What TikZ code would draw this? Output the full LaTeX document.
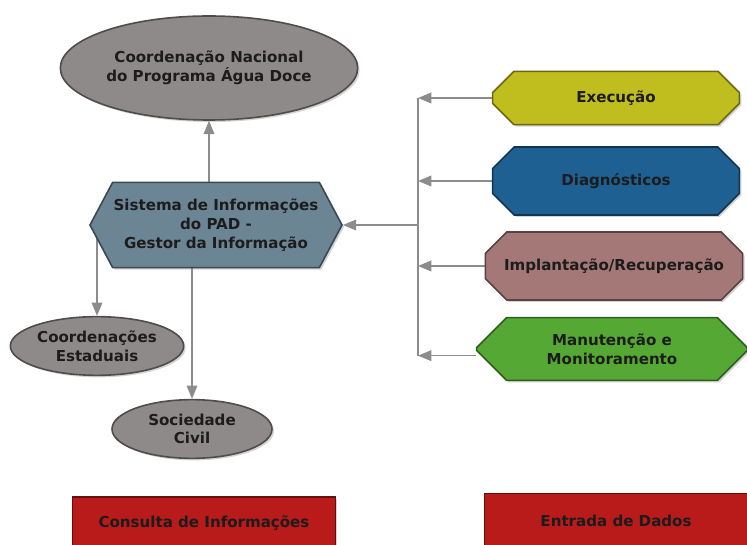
\documentclass[tikz,border=0pt]{standalone}
\usepackage{fontspec}
\setmainfont{DejaVu Sans}
\usetikzlibrary{shapes.geometric}
\usetikzlibrary{shapes.misc}
\usetikzlibrary{shapes.symbols}
\usetikzlibrary{arrows.meta}
\usetikzlibrary{shadows}
\usetikzlibrary{backgrounds}

\definecolor{cinza}{RGB}{142,138,138}
\definecolor{ardosia}{RGB}{108,133,149}
\definecolor{oliva}{RGB}{192,189,30}
\definecolor{azul}{RGB}{30,96,145}
\definecolor{rosa}{RGB}{163,120,118}
\definecolor{verde}{RGB}{86,168,52}
\definecolor{vermelho}{RGB}{185,26,26}
\definecolor{escrita}{RGB}{28,28,28}
\definecolor{seta}{RGB}{140,140,140}

\begin{document}
\begin{tikzpicture}[x=0.75pt, y=-0.75pt,
  txt/.style={font=\fontsize{11.3}{14}\selectfont\bfseries, text=escrita, align=center},
  caixa/.style={draw=#1!55!black, fill=#1, line width=1.2pt,
    drop shadow={opacity=0.35, shadow xshift=1.5pt, shadow yshift=-1.5pt}},
  elipse/.style={ellipse, caixa=cinza, inner sep=0pt},
  chanfro/.style={chamfered rectangle, chamfered rectangle xsep=13pt,
    chamfered rectangle ysep=10.5pt, inner sep=0pt, txt},
  fluxo/.style={draw=seta, line width=1.1pt, -{Triangle[length=10pt, width=8pt]}}
]
\useasboundingbox (0,0) rectangle (747,545);

% consumidores da informacao
\node[elipse, minimum width=223pt, minimum height=78pt,
  label={[txt]center:{Coordenação Nacional\\do Programa Água Doce}}] (nacional) at (209,68) {};
\node[signal, signal to=west and east, signal pointer angle=124, caixa=ardosia,
  minimum width=189pt, minimum height=64pt, inner sep=0pt,
  label={[txt]center:{Sistema de Informações\\do PAD -\\Gestor da Informação}}] (sistema) at (216,225) {};
\node[elipse, minimum width=130pt, minimum height=44pt,
  label={[txt]center:{Coordenações\\Estaduais}}] (estaduais) at (97,346) {};
\node[elipse, minimum width=120pt, minimum height=44pt,
  label={[txt]center:{Sociedade\\Civil}}] (civil) at (192,429) {};

% fontes de dados
\node[chanfro, caixa=oliva, minimum width=185pt, minimum height=40pt] (exec) at (616,98) {Execução};
\node[chanfro, caixa=azul, minimum width=185pt, minimum height=51pt] (diag) at (616,181) {Diagnósticos};
\node[chanfro, caixa=rosa, minimum width=193pt, minimum height=51pt] (impl) at (614,266) {Implantação/Recuperação};
\node[chanfro, caixa=verde, minimum width=203pt, minimum height=47pt,
  chamfered rectangle xsep=15pt, chamfered rectangle ysep=11pt] (manut) at (612,349) {Manutenção e\\Monitoramento};

% legenda
\node[rectangle, caixa=vermelho, txt, minimum width=197pt, minimum height=39pt] (consulta) at (204,523) {Consulta de Informações};
\node[rectangle, caixa=vermelho, txt, minimum width=197pt, minimum height=41pt] (entrada) at (616,521) {Entrada de Dados};

\coordinate (tronco) at (418,225);

\begin{scope}[on background layer]
\draw[fluxo] (sistema.north -| nacional.south) -- (nacional.south);
\draw[fluxo] (sistema.west -| estaduais.north) -- (estaduais.north);
\draw[fluxo] (sistema.south -| civil.north) -- (civil.north);
\draw[draw=seta, line width=1.1pt] (exec.west -| tronco) -- ([yshift=-5pt]manut.west -| tronco);
\draw[fluxo] (tronco) -- (sistema.east);
\draw[fluxo] (exec.west) -- (exec.west -| tronco);
\draw[fluxo] (diag.west) -- (diag.west -| tronco);
\draw[fluxo] (impl.west) -- (impl.west -| tronco);
\draw[fluxo] ([yshift=-5pt]manut.west) -- ([yshift=-5pt]manut.west -| tronco);
\end{scope}
\end{tikzpicture}
\end{document}
